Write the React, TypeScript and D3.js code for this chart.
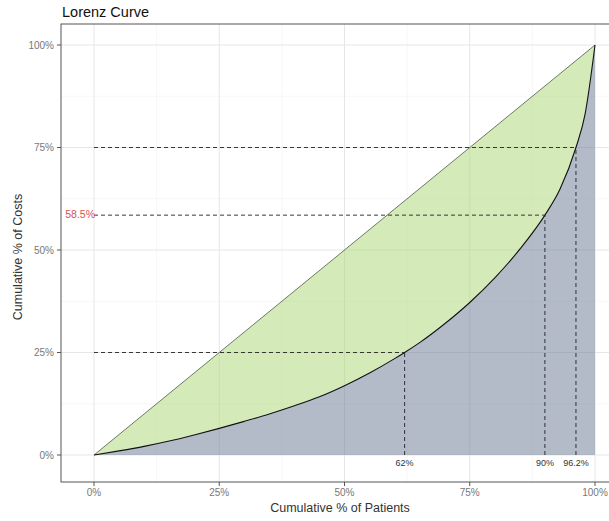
import React from "react";
import * as d3 from "d3";

const curveX = [0, 0.05, 0.1, 0.15, 0.2, 0.25, 0.3, 0.35, 0.4, 0.45, 0.5, 0.55, 0.6, 0.62, 0.65, 0.7, 0.75, 0.8, 0.85, 0.9, 0.93, 0.962, 0.98, 1.0];
const curveY = [0, 0.01, 0.021, 0.034, 0.049, 0.065, 0.082, 0.1, 0.12, 0.142, 0.169, 0.2, 0.235, 0.25, 0.274, 0.32, 0.372, 0.432, 0.502, 0.585, 0.648, 0.75, 0.83, 1.0];
const markX = [0.62, 0.9, 0.962];
const markY = [0.25, 0.585, 0.75];
const markXLabels = ["62%", "90%", "96.2%"];
const highlightLabel = "58.5%";
const tickValues = [0, 0.25, 0.5, 0.75, 1];
const minorValues = [0.125, 0.375, 0.625, 0.875];

export default function App() {
  const W = 609, H = 521;
  const panel = { left: 61, top: 24, right: 630, bottom: 482 };
  const x = d3.scaleLinear().domain([0, 1]).range([94, 595]);
  const y = d3.scaleLinear().domain([0, 1]).range([455, 45]);
  const pts: [number, number][] = curveX.map((v, i) => [v, curveY[i]]);

  const line = d3.line<[number, number]>().x(d => x(d[0])).y(d => y(d[1])).curve(d3.curveMonotoneX);
  const areaUnder = d3.area<[number, number]>().x(d => x(d[0])).y0(y(0)).y1(d => y(d[1])).curve(d3.curveMonotoneX);
  const areaBetween = d3.area<[number, number]>().x(d => x(d[0])).y0(d => y(d[0])).y1(d => y(d[1])).curve(d3.curveMonotoneX);

  const pct = (v: number) => `${Math.round(v * 100)}%`;
  const font = "'Liberation Sans', Arial, sans-serif";

  return (
    <svg width={W} height={H} style={{ position: "absolute", left: 0, top: 0, background: "#fff" }} fontFamily={font}>
      <defs>
        <clipPath id="pclip">
          <rect x={panel.left} y={panel.top} width={panel.right - panel.left} height={panel.bottom - panel.top} />
        </clipPath>
      </defs>
      <rect x={0} y={0} width={W} height={H} fill="#fff" />
      <g clipPath="url(#pclip)">
        {minorValues.map(v => (
          <g key={"mn" + v}>
            <line x1={x(v)} x2={x(v)} y1={panel.top} y2={panel.bottom} stroke="#f2f2f2" strokeWidth={0.6} />
            <line x1={panel.left} x2={panel.right} y1={y(v)} y2={y(v)} stroke="#f2f2f2" strokeWidth={0.6} />
          </g>
        ))}
        {tickValues.map(v => (
          <g key={"mj" + v}>
            <line x1={x(v)} x2={x(v)} y1={panel.top} y2={panel.bottom} stroke="#e6e6e6" strokeWidth={1} />
            <line x1={panel.left} x2={panel.right} y1={y(v)} y2={y(v)} stroke="#e6e6e6" strokeWidth={1} />
          </g>
        ))}
        <path d={areaBetween(pts) || ""} fill="rgb(169,215,115)" fillOpacity={0.5} />
        <path d={areaUnder(pts) || ""} fill="rgb(105,119,145)" fillOpacity={0.5} />
        <line x1={x(0)} y1={y(0)} x2={x(1)} y2={y(1)} stroke="#4b5a45" strokeWidth={0.8} />
        <path d={line(pts) || ""} fill="none" stroke="#111" strokeWidth={1.1} />
        {markX.map((mx, i) => (
          <g key={"mk" + i}>
            <line x1={x(0)} x2={x(mx)} y1={y(markY[i])} y2={y(markY[i])} stroke="#222" strokeWidth={0.9} strokeDasharray="4,3" />
            <line x1={x(mx)} x2={x(mx)} y1={y(0)} y2={y(markY[i])} stroke="#222" strokeWidth={0.9} strokeDasharray="4,3" />
            <text x={x(mx)} y={y(0) + 11} textAnchor="middle" fontSize={9} fill="#333">{markXLabels[i]}</text>
          </g>
        ))}
      </g>
      <text x={x(0) + 1} y={y(markY[1]) + 3} textAnchor="end" fontSize={10.5} fill="#d9534f">{highlightLabel}</text>
      <rect x={panel.left} y={panel.top} width={panel.right - panel.left} height={panel.bottom - panel.top} fill="none" stroke="#555" strokeWidth={1} />
      {tickValues.map(v => (
        <g key={"ty" + v}>
          <line x1={panel.left - 4} x2={panel.left} y1={y(v)} y2={y(v)} stroke="#555" strokeWidth={1} />
          <text x={panel.left - 7} y={y(v) + 3.5} textAnchor="end" fontSize={10} fill="#777">{pct(v)}</text>
          <line x1={x(v)} x2={x(v)} y1={panel.bottom} y2={panel.bottom + 4} stroke="#555" strokeWidth={1} />
          <text x={x(v)} y={panel.bottom + 14} textAnchor="middle" fontSize={10} fill="#777">{pct(v)}</text>
        </g>
      ))}
      <text x={340} y={512} textAnchor="middle" fontSize={12.5} fill="#333">Cumulative % of Patients</text>
      <text transform={`translate(22,${(panel.top + panel.bottom) / 2 + 4}) rotate(-90)`} textAnchor="middle" fontSize={12.5} fill="#333">Cumulative % of Costs</text>
      <text x={62} y={17} fontSize={14.5} fill="#111">Lorenz Curve</text>
    </svg>
  );
}
